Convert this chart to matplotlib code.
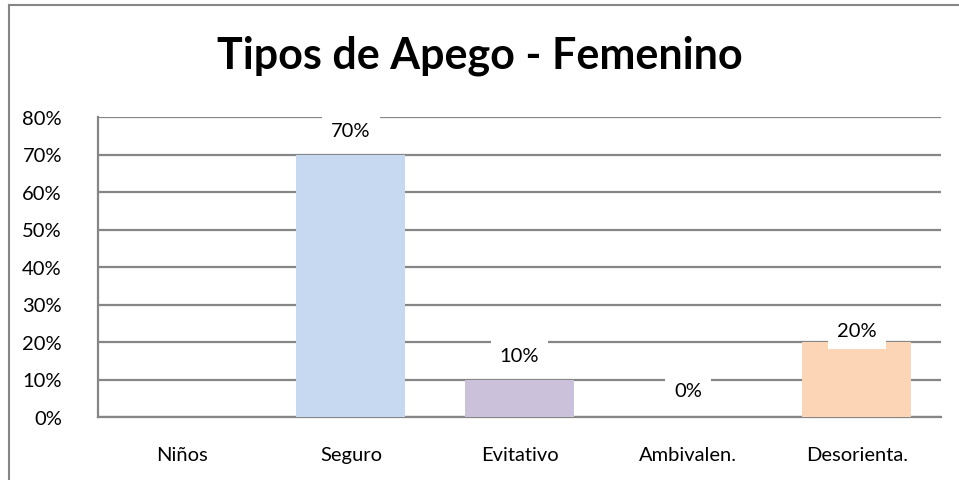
import numpy as np
import matplotlib
matplotlib.use("Agg")
import matplotlib.pyplot as plt
from matplotlib.lines import Line2D
from matplotlib.ticker import PercentFormatter

categories = ["Niños", "Seguro", "Evitativo", "Ambivalen.", "Desorienta."]
values = [np.nan, 0.70, 0.10, 0.00, 0.20]
labels = ["", "70%", "10%", "0%", "20%"]
title = "Tipos de Apego - Femenino"

colors = ["#C6D9F1", "#C6D9F1", "#CCC1DA", "#FBD5B5", "#FBD5B5"]
label_offsets_px = [24, 24, 24, 26, 11]

W, H = 959, 481
plt.rcParams["font.family"] = ["Lato", "DejaVu Sans"]
fig = plt.figure(figsize=(W / 100, H / 100), dpi=100)

ax = fig.add_axes([98 / W, (H - 418) / H, (941 - 98) / W, (418 - 118) / H])
x = np.arange(len(categories))
ax.bar(x, values, width=0.647, color=colors, zorder=3)

ax.set_xlim(-0.5, len(categories) - 0.5)
ax.set_ylim(0, 0.8)
ax.set_yticks(np.arange(0, 0.81, 0.1))
ax.yaxis.set_major_formatter(PercentFormatter(1.0, decimals=0))
ax.set_xticks(x)
ax.set_xticklabels(categories)
ax.tick_params(axis="both", length=0, labelsize=14.5, colors="black")
ax.tick_params(axis="x", pad=21)
ax.tick_params(axis="y", pad=26)

ax.grid(axis="y", color="#868686", linewidth=1.6, zorder=1)
ax.set_axisbelow(True)
for s in ["top", "right"]:
    ax.spines[s].set_visible(False)
for s in ["left", "bottom"]:
    ax.spines[s].set_color("#868686")
    ax.spines[s].set_linewidth(1.6)
    ax.spines[s].set_zorder(2)

for xi, v, lab, off in zip(x, values, labels, label_offsets_px):
    if not lab:
        continue
    ax.annotate(lab, xy=(xi, v), xytext=(0, off * 0.72), textcoords="offset points",
                ha="center", va="center", fontsize=14.5, zorder=5,
                bbox=dict(boxstyle="square,pad=0.45", fc="white", ec="none"))

fig.text(0.5, 1 - 56 / H, title, ha="center", va="center", fontsize=31, fontweight="bold")

# outer chart border (left and top visible)
fig.add_artist(Line2D([9 / W, 9 / W], [0, 1 - 6 / H], transform=fig.transFigure,
                      color="#868686", linewidth=1.5))
fig.add_artist(Line2D([9 / W, 1], [1 - 6 / H, 1 - 6 / H], transform=fig.transFigure,
                      color="#868686", linewidth=1.5))

fig.savefig("out.png", dpi=100)
